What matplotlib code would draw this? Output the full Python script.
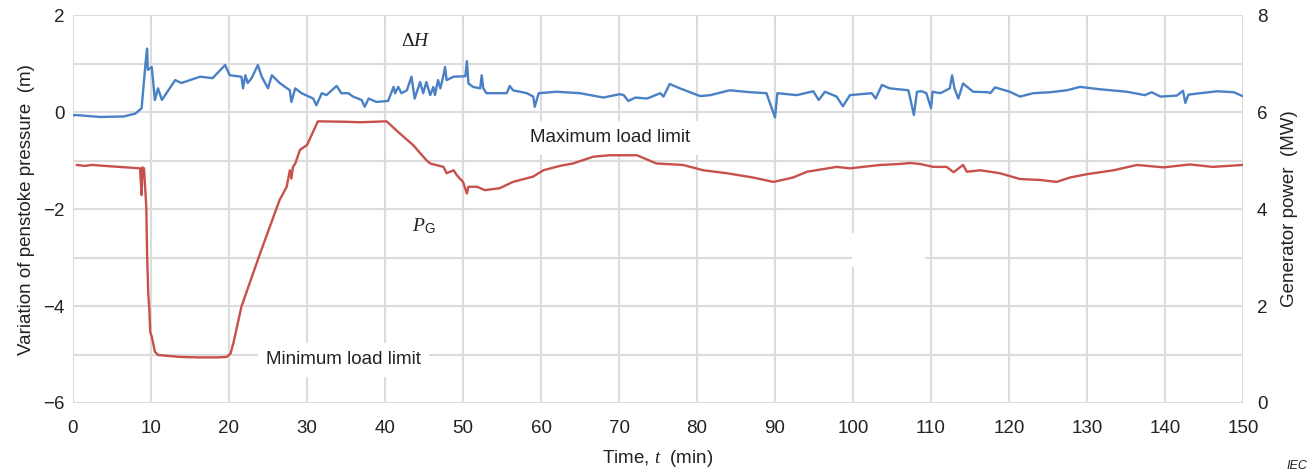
#!/usr/bin/env python3
# -*- coding: utf-8 -*-
"""
Variation of penstoke pressure (dH) and generator power (P_G) vs time.
Saves out.png (about 1310x473).
"""
import matplotlib
matplotlib.use("Agg")
import matplotlib.pyplot as plt
from matplotlib.patches import Rectangle
from matplotlib.ticker import MultipleLocator

# --- data --------------------------------------------------------------------
# pressure variation dH (m), left axis
dh_t = [0.0, 0.3, 3.5, 6.5, 8.0, 8.8, 9.3, 9.5, 9.6, 10.1, 10.5, 10.9, 11.4,
        13.1, 13.9, 16.3, 17.9, 19.5, 20.1, 21.6, 21.8, 22.1, 22.4, 22.9, 23.7,
        24.2, 25.0, 25.5, 26.5, 27.8, 28.0, 28.5, 29.3, 30.8, 31.2, 31.9, 32.5,
        33.8, 34.4, 35.3, 35.9, 37.0, 37.4, 37.9, 38.9, 40.4, 41.1, 41.3, 41.7,
        42.1, 42.8, 43.4, 43.8, 44.5, 44.9, 45.3, 45.8, 46.2, 46.4, 46.8, 47.1,
        47.5, 47.7, 47.9, 48.8, 50.3, 50.5, 50.7, 51.3, 52.2, 52.4, 52.6, 53.0,
        55.6, 56.0, 56.4, 58.2, 59.0, 59.2, 59.7, 62.0, 65.0, 68.0, 70.1, 70.6,
        71.2, 72.1, 73.6, 75.3, 75.7, 76.5, 77.8, 80.4, 81.7, 84.2, 86.8, 88.9,
        90.0, 90.3, 92.8, 94.9, 95.6, 96.4, 97.9, 98.7, 99.6, 102.4, 102.9,
        103.7, 104.7, 107.1, 107.8, 108.2, 108.8, 109.4, 110.0, 110.2, 111.2,
        112.4, 112.7, 113.0, 113.5, 114.1, 115.4, 117.3, 117.6, 118.2, 120.1,
        121.4, 123.1, 125.3, 127.4, 129.1, 131.7, 135.1, 137.4, 138.3, 139.4,
        141.5, 142.3, 142.6, 143.0, 144.5, 146.7, 148.8, 149.8, 150.0]
dh_v = [-0.07, -0.06, -0.10, -0.09, -0.03, 0.08, 1.00, 1.31, 0.87, 0.93, 0.25,
        0.49, 0.25, 0.66, 0.60, 0.73, 0.70, 0.97, 0.76, 0.73, 0.49, 0.76, 0.60,
        0.70, 0.97, 0.73, 0.49, 0.76, 0.60, 0.45, 0.21, 0.49, 0.39, 0.28, 0.14,
        0.39, 0.35, 0.54, 0.39, 0.39, 0.32, 0.25, 0.11, 0.28, 0.21, 0.23, 0.52,
        0.39, 0.52, 0.39, 0.45, 0.73, 0.28, 0.62, 0.39, 0.62, 0.35, 0.52, 0.35,
        0.66, 0.49, 0.76, 0.93, 0.66, 0.73, 0.74, 1.05, 0.59, 0.52, 0.49, 0.76,
        0.49, 0.39, 0.39, 0.54, 0.45, 0.39, 0.32, 0.11, 0.39, 0.42, 0.39, 0.30,
        0.37, 0.35, 0.23, 0.30, 0.28, 0.39, 0.32, 0.58, 0.49, 0.33, 0.35, 0.45,
        0.41, 0.39, -0.11, 0.39, 0.35, 0.43, 0.25, 0.42, 0.32, 0.12, 0.35, 0.39,
        0.28, 0.56, 0.49, 0.45, -0.06, 0.42, 0.43, 0.39, 0.08, 0.42, 0.39, 0.49,
        0.76, 0.49, 0.28, 0.59, 0.42, 0.41, 0.39, 0.51, 0.42, 0.32, 0.39, 0.41,
        0.45, 0.52, 0.47, 0.42, 0.35, 0.41, 0.32, 0.34, 0.44, 0.19, 0.36, 0.39,
        0.43, 0.41, 0.34, 0.33]

# generator power P_G (MW), right axis
pg_t = [0.5, 1.5, 2.4, 5.0, 8.6, 8.8, 8.9, 9.1, 9.4, 9.5, 9.65, 9.8, 9.9, 10.1,
        10.5, 10.9, 13.7, 16.3, 18.4, 19.7, 20.2, 20.6, 21.6, 24.0, 25.7, 26.5,
        27.4, 27.8, 28.0, 28.2, 28.5, 29.1, 30.0, 31.4, 35.1, 36.8, 40.2, 41.9,
        43.6, 45.3, 45.8, 47.5, 47.9, 48.8, 49.2, 50.0, 50.5, 50.7, 51.8, 52.8,
        54.7, 56.4, 59.0, 60.3, 62.4, 64.1, 66.7, 68.8, 72.3, 74.8, 78.2, 80.8,
        83.8, 87.2, 89.8, 92.3, 94.1, 97.9, 99.6, 103.5, 106.0, 107.3, 108.6,
        110.3, 112.0, 112.9, 114.1, 114.6, 116.3, 118.8, 121.4, 124.0, 126.1,
        127.8, 130.0, 133.4, 136.4, 139.8, 143.2, 146.1, 150.0]
pg_v = [4.91, 4.89, 4.91, 4.88, 4.84, 4.29, 4.86, 4.84, 4.05, 3.09, 2.26, 1.90,
        1.47, 1.37, 1.06, 0.99, 0.95, 0.94, 0.94, 0.95, 1.02, 1.26, 1.99, 3.09,
        3.84, 4.19, 4.46, 4.80, 4.63, 4.87, 4.94, 5.22, 5.32, 5.81, 5.80, 5.79,
        5.81, 5.56, 5.32, 5.01, 4.94, 4.87, 4.74, 4.80, 4.70, 4.56, 4.32, 4.46,
        4.46, 4.39, 4.43, 4.56, 4.67, 4.80, 4.89, 4.94, 5.08, 5.11, 5.11, 4.94,
        4.91, 4.80, 4.74, 4.65, 4.56, 4.65, 4.77, 4.87, 4.84, 4.91, 4.93, 4.95,
        4.93, 4.87, 4.87, 4.76, 4.91, 4.77, 4.80, 4.74, 4.62, 4.60, 4.56, 4.65,
        4.72, 4.80, 4.91, 4.86, 4.92, 4.87, 4.91]

BLUE = "#4a80c4"
RED = "#c8504b"
GRID = "#dcdcdc"
TXT = "#222222"

plt.rcParams["font.family"] = ["Liberation Sans", "DejaVu Sans"]
plt.rcParams["mathtext.fontset"] = "custom"
plt.rcParams["mathtext.rm"] = "Liberation Serif"
plt.rcParams["mathtext.it"] = "Liberation Serif:italic"
plt.rcParams["mathtext.sf"] = "Liberation Sans"
plt.rcParams["font.size"] = 13.5

fig = plt.figure(figsize=(13.10, 4.73), dpi=100)
ax = fig.add_axes([0.0557, 0.148, 0.8932, 0.820])
ax2 = ax.twinx()

ax.set_xlim(0, 150)
ax.set_ylim(-6, 2)
ax2.set_ylim(0, 8)

ax.xaxis.set_major_locator(MultipleLocator(10))
ax.yaxis.set_major_locator(MultipleLocator(2))
ax.yaxis.set_minor_locator(MultipleLocator(1))
ax2.yaxis.set_major_locator(MultipleLocator(2))

ax.set_axisbelow(True)
ax.grid(True, which="both", color=GRID, lw=1.5)
ax2.grid(False)
for a in (ax, ax2):
    for s in a.spines.values():
        s.set_visible(False)
    a.tick_params(which="both", length=0, colors=TXT, labelsize=13.5)
ax.tick_params(axis="x", pad=12)
ax.tick_params(axis="y", pad=6)
ax2.tick_params(axis="y", pad=10)

# blank white patch sitting on the grid
ax.add_patch(Rectangle((99.9, -3.2), 9.3, 0.71, facecolor="white",
                       edgecolor="none", zorder=1.5))

ax.plot(dh_t, dh_v, color=BLUE, lw=1.7, zorder=3)
ax2.plot(pg_t, pg_v, color=RED, lw=1.7, zorder=3)

box = dict(facecolor="white", edgecolor="none", pad=6)
ax.text(68.8, -0.53, "Maximum load limit", ha="center", va="center",
        color=TXT, bbox=box, zorder=2)
ax.text(34.7, -5.11, "Minimum load limit", ha="center", va="center",
        color=TXT, bbox=box, zorder=2)
ax.text(44.0, 1.45, r"$\Delta H$", ha="center", va="center", color=TXT,
        fontsize=14)
ax.text(45.0, -2.35, r"$P_{\mathsf{G}}$", ha="center", va="center",
        color=TXT, fontsize=14)

ax.set_xlabel(r"Time, $t$  (min)", color=TXT, labelpad=8)
ax.set_ylabel("Variation of penstoke pressure  (m)", color=TXT, labelpad=6)
ax2.set_ylabel("Generator power  (MW)", color=TXT, labelpad=10)

fig.text(0.982, 0.002, "IEC", fontsize=9, style="italic", color=TXT,
         ha="left", va="bottom")

fig.savefig("out.png", dpi=100)
